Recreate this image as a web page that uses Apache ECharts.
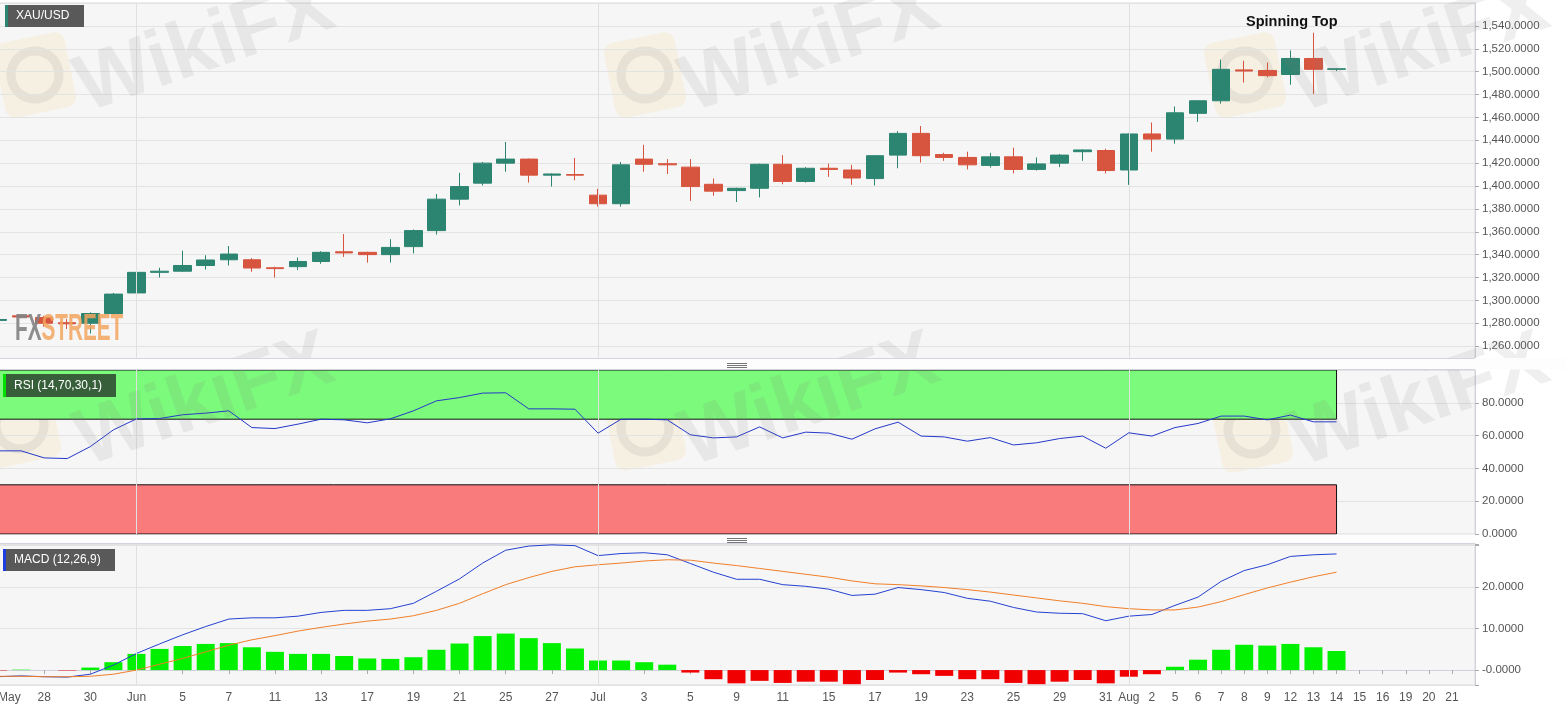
<!DOCTYPE html>
<html>
<head>
<meta charset="utf-8">
<script src="https://cdn.jsdelivr.net/npm/echarts@6/dist/echarts.min.js"></script>
<style>
html,body{margin:0;padding:0;background:#ffffff;}
#chart{width:1565px;height:711px;}
</style>
</head>
<body>
<div id="chart"></div>
<script>
// ---------- DATA ----------
const categories = [
 '2019-05-24','2019-05-27','2019-05-28','2019-05-29','2019-05-30','2019-05-31',
 '2019-06-03','2019-06-04','2019-06-05','2019-06-06','2019-06-07',
 '2019-06-10','2019-06-11','2019-06-12','2019-06-13','2019-06-14',
 '2019-06-17','2019-06-18','2019-06-19','2019-06-20','2019-06-21',
 '2019-06-24','2019-06-25','2019-06-26','2019-06-27','2019-06-28',
 '2019-07-01','2019-07-02','2019-07-03','2019-07-04','2019-07-05',
 '2019-07-08','2019-07-09','2019-07-10','2019-07-11','2019-07-12',
 '2019-07-15','2019-07-16','2019-07-17','2019-07-18','2019-07-19',
 '2019-07-22','2019-07-23','2019-07-24','2019-07-25','2019-07-26',
 '2019-07-29','2019-07-30','2019-07-31','2019-08-01','2019-08-02',
 '2019-08-05','2019-08-06','2019-08-07','2019-08-08','2019-08-09',
 '2019-08-12','2019-08-13','2019-08-14','2019-08-15','2019-08-16',
 '2019-08-19','2019-08-20','2019-08-21','2019-08-22'
];
const tickLabels = [
 'May','','28','','30','',
 'Jun','','5','','7',
 '','11','','13','',
 '17','','19','','21',
 '','25','','27','',
 'Jul','','3','','5',
 '','9','','11','',
 '15','','17','','19',
 '','23','','25','',
 '29','','31','Aug','2',
 '5','6','7','8','9',
 '12','13','14','15','16',
 '19','20','21',''
];
const openPrices = [1282.5,1286.5,1285,1280.5,1280,1288.5,1306.5,1324.5,1325.5,1330.5,1335.5,1335.5,1328.5,1329.5,1334,1342.5,1342,1340,1347,1361,1388.5,1402.5,1420,1423.5,1409.5,1410,1392,1384.5,1423.5,1419.5,1416.5,1401.5,1396,1398,1419,1404,1415.5,1414,1406.5,1427,1446,1427.5,1425,1418,1425.5,1414.5,1420,1430,1431,1414,1445.5,1441,1463.5,1474.5,1501.5,1501,1497.5,1511.5,1502];
const closePrices = [1283.3,1285.5,1280,1279.5,1288.5,1305.5,1324.5,1325.5,1330.5,1335.3,1340.5,1328.3,1327.8,1334,1342,1341.5,1340,1346.3,1361,1388.5,1399.5,1420,1423.5,1409.5,1410.5,1409.5,1384.5,1418.5,1419,1418.5,1399.5,1395.5,1398,1419,1404,1415.5,1414.5,1407,1426.5,1446,1426.5,1425,1418.5,1425.5,1414.5,1419.3,1427,1431.5,1413.5,1445.5,1441,1464,1474.5,1502,1500.5,1496.5,1511.5,1502,1502.5];
const lowPrices = [1281.5,1284.5,1277,1275,1271,1287.5,1306,1320,1325,1327,1330.5,1325,1320,1326.5,1332,1338,1333,1333,1341,1357.5,1383,1400.5,1412.5,1403,1399.5,1405,1382,1382,1412.5,1410.5,1387,1391.5,1386,1390,1401.5,1403,1408,1401,1400.5,1415.5,1420.5,1422,1414.5,1416,1411,1413.5,1416.5,1422,1411,1401,1430,1437,1456,1472,1490.5,1495,1488.5,1480.5,1500.5];
const highPrices = [1284,1287,1286.5,1283.5,1289.5,1306.5,1327,1328.5,1343.5,1339.5,1347.5,1337,1329.5,1337.5,1343,1358,1342.5,1353.5,1362,1393,1411.5,1421,1438.5,1424,1411,1424.5,1397.5,1421,1436,1423.5,1423.5,1406.5,1398.5,1419.5,1427,1416.5,1419.5,1418.5,1427,1448,1452.5,1429,1430,1429,1433.5,1425,1428,1432,1432.5,1446,1455.5,1469.5,1475,1510.5,1509.5,1508,1518.5,1534,1503];
const rsiValues = [50.7,50.7,46.4,46.0,53.3,63.5,70.2,70.4,72.7,73.7,75.1,64.9,64.3,67.0,70.0,69.6,67.8,70.2,75.1,81.2,83.2,85.9,86.1,76.3,76.3,76.1,61.5,70.0,70.0,69.6,60.5,58.6,59.2,65.3,58.6,62.1,61.5,57.8,64.1,68.2,59.7,59.2,56.6,58.8,54.3,55.6,58.2,59.7,52.3,61.7,59.7,64.9,67.4,71.9,71.9,69.6,72.5,68.4,68.4];
const macdValues = [-1.6,-1.4,-1.6,-1.7,-1.0,1.2,4.0,6.3,8.5,10.5,12.3,12.6,12.6,13.0,13.9,14.4,14.4,14.8,16.1,19.0,22.0,25.8,28.9,29.9,30.2,30.0,27.6,28.1,28.3,27.8,25.7,23.6,21.9,21.9,20.6,20.2,19.5,18.0,18.3,19.9,19.4,18.7,17.3,16.6,15.1,14.0,13.7,13.6,11.9,13.0,13.4,15.6,17.6,21.4,24.0,25.4,27.4,27.8,28.0];
const signalValues = [-1.5,-1.5,-1.6,-1.6,-1.5,-1.0,0.0,1.4,2.8,4.4,6.0,7.3,8.3,9.4,10.3,11.1,11.8,12.3,13.1,14.4,16.1,18.4,20.6,22.3,23.8,24.9,25.4,25.8,26.3,26.6,26.5,25.8,25.2,24.5,23.8,23.1,22.4,21.5,20.8,20.6,20.3,19.9,19.4,18.8,18.1,17.4,16.7,16.1,15.3,14.8,14.5,14.5,15.2,16.5,18.2,19.8,21.2,22.5,23.6];
const histValues = [-0.1,0.1,0,-0.1,0.6,1.9,3.9,5.1,5.8,6.3,6.5,5.5,4.4,3.9,3.9,3.4,2.8,2.7,3.1,4.9,6.4,8.2,8.8,7.7,6.5,5.2,2.3,2.3,1.9,1.3,-0.6,-2.2,-3.2,-2.6,-3.1,-2.8,-2.8,-3.4,-2.4,-0.6,-1.0,-1.4,-2.2,-2.2,-3.1,-3.4,-2.8,-2.4,-3.2,-1.6,-1.0,0.8,2.5,4.9,6.1,5.9,6.3,5.5,4.6];
const monthStarts = ['2019-06-03','2019-07-01','2019-08-01'];
const rsiUpper = 70, rsiLower = 30;

// ---------- CHART ----------
const FONT = 'Arial, "Liberation Sans", sans-serif';
const candleData = openPrices.map((o, i) => [o, closePrices[i], lowPrices[i], highPrices[i]]);
const lastCat = categories[openPrices.length - 1];

const gridBase = {left: -2, right: 90, show: true, backgroundColor: '#f6f6f6', borderColor: '#d9dbe3', borderWidth: 1,
  containLabel: false, outerBoundsMode: 'none'};
const monthLine = {
  silent: true, symbol: 'none', label: {show: false},
  lineStyle: {color: '#e0e0e0', type: 'solid', width: 1},
  data: monthStarts.map(d => ({xAxis: d}))
};
function xAx(idx, showLabels) {
  const ax = {
    type: 'category', gridIndex: idx, data: categories, boundaryGap: false,
    axisLine: {show: false}, axisTick: {show: false}, axisLabel: {show: false}, splitLine: {show: false}
  };
  if (showLabels) {
    ax.axisLine = {show: true, lineStyle: {color: '#cfd1d8'}};
    ax.axisTick = {show: true, length: 4, interval: (i) => tickLabels[i] !== '', lineStyle: {color: '#aaa'}};
    ax.axisLabel = {
      show: true, interval: (i) => tickLabels[i] !== '',
      formatter: (v, i) => tickLabels[i], color: '#555', fontSize: 12, fontFamily: FONT, margin: 7,
      alignMinLabel: 'left'
    };
  }
  return ax;
}
function yAx(idx, extra) {
  return Object.assign({
    type: 'value', gridIndex: idx, position: 'right',
    axisLine: {show: true, lineStyle: {color: '#cfd1d8'}},
    axisTick: {show: true, length: 4, lineStyle: {color: '#aaa'}},
    splitLine: {show: true, lineStyle: {color: '#e3e3e3'}},
  }, extra);
}
const fmt4 = v => v.toLocaleString('en-US', {minimumFractionDigits: 4, maximumFractionDigits: 4});
const labelStyle = {color: '#555', fontSize: 11.5, fontFamily: FONT, margin: 7};

// watermark helpers
const wmTexts = [[205,48],[810,48],[1420,48],[205,402],[810,402],[1420,402]].map(p => ({
  type: 'text', x: p[0], y: p[1], rotation: 0.33, z: 60, silent: true,
  style: {text: 'WikiFX', fill: 'rgba(135,120,120,0.12)', font: 'bold 80px ' + FONT, textAlign: 'center', textVerticalAlign: 'middle'}
}));
const wmLogos = [[35,75],[645,75],[1245,75],[20,425],[645,428],[1252,430]].map(p => ({
  type: 'group', x: p[0], y: p[1], rotation: 0.2, z: 59, silent: true,
  children: [
    {type: 'rect', shape: {x: -36, y: -38, width: 72, height: 76, r: 10}, style: {fill: 'rgba(248,215,140,0.18)'}},
    {type: 'circle', shape: {cx: 0, cy: 0, r: 24}, style: {fill: 'none', stroke: 'rgba(140,130,130,0.14)', lineWidth: 9}}
  ]
}));

function handle(y) {
  return [0, 2, 4].map(d => ({type: 'line', z: 101, silent: true,
    shape: {x1: 727, y1: y + d + 0.5, x2: 747, y2: y + d + 0.5}, style: {stroke: '#777', lineWidth: 1}}));
}
function labelBox(x, y, w, h, bg, stripe, text) {
  return [
    {type: 'rect', z: 102, silent: true, shape: {x: x, y: y, width: w, height: h}, style: {fill: bg}},
    {type: 'rect', z: 103, silent: true, shape: {x: x, y: y, width: 3, height: h}, style: {fill: stripe}},
    {type: 'text', z: 103, silent: true, x: x + 11, y: y + h / 2,
     style: {text: text, fill: '#ffffff', font: '12px ' + FONT, textVerticalAlign: 'middle'}}
  ];
}

const option = {
  animation: false,
  backgroundColor: '#ffffff',
  grid: [
    Object.assign({}, gridBase, {top: 3, height: 366}),
    Object.assign({}, gridBase, {top: 370, height: 164}),
    Object.assign({}, gridBase, {top: 544, height: 141})
  ],
  xAxis: [xAx(0, false), xAx(1, false), xAx(2, true)],
  yAxis: [
    yAx(0, {min: 1240, max: 1560, interval: 20,
      axisLabel: Object.assign({formatter: fmt4, showMinLabel: false, showMaxLabel: false}, labelStyle)}),
    yAx(1, {min: 0, max: 100, interval: 20,
      axisLabel: Object.assign({formatter: v => v.toFixed(4), showMaxLabel: false}, labelStyle)}),
    yAx(2, {min: -3.6, max: 30.4, splitNumber: 3,
      axisLabel: Object.assign({formatter: v => {
        if (Math.abs(v - Math.round(v / 10) * 10) > 1e-6 || v >= 30 || v < 0) return '';
        return v === 0 ? '-0.0000' : v.toFixed(4);
      }}, labelStyle)})
  ],
  series: [
    {
      type: 'candlestick', xAxisIndex: 0, yAxisIndex: 0, data: candleData, barWidth: 18,
      itemStyle: {color: '#2c8570', color0: '#d7543e', borderColor: '#2c8570', borderColor0: '#d7543e', borderWidth: 1},
      markLine: monthLine
    },
    {
      type: 'line', xAxisIndex: 1, yAxisIndex: 1, data: rsiValues, symbol: 'none',
      lineStyle: {color: '#2438c9', width: 1}, z: 5,
      markLine: monthLine,
      markArea: {
        silent: true,
        data: [
          [{xAxis: categories[0], yAxis: rsiUpper, itemStyle: {color: '#7cfa7c', borderColor: '#111', borderWidth: 1}},
           {xAxis: lastCat, yAxis: 100}],
          [{xAxis: categories[0], yAxis: 0, itemStyle: {color: '#fa7b7b', borderColor: '#111', borderWidth: 1}},
           {xAxis: lastCat, yAxis: rsiLower}]
        ]
      }
    },
    {
      type: 'bar', xAxisIndex: 2, yAxisIndex: 2, data: histValues, barWidth: 18,
      itemStyle: {color: p => p.value >= 0 ? '#00f000' : '#f00000'},
      markLine: monthLine
    },
    {
      type: 'line', xAxisIndex: 2, yAxisIndex: 2, data: macdValues, symbol: 'none',
      lineStyle: {color: '#2540d0', width: 1}
    },
    {
      type: 'line', xAxisIndex: 2, yAxisIndex: 2, data: signalValues, symbol: 'none',
      lineStyle: {color: '#f07f2a', width: 1}
    }
  ],
  graphic: [].concat(
    // separators
    [{type: 'rect', z: 100, silent: true, shape: {x: 0, y: 358, width: 1565, height: 11.5}, style: {fill: '#fdfdfd'}},
     {type: 'line', z: 100, silent: true, shape: {x1: 0, y1: 358.5, x2: 1475, y2: 358.5}, style: {stroke: '#d3d4dc', lineWidth: 1}},
     {type: 'line', z: 100, silent: true, shape: {x1: 0, y1: 369.5, x2: 1475, y2: 369.5}, style: {stroke: '#d3d4dc', lineWidth: 1}},
     {type: 'rect', z: 100, silent: true, shape: {x: 0, y: 534.5, width: 1475, height: 9}, style: {fill: '#fdfdfd'}},
     {type: 'line', z: 100, silent: true, shape: {x1: 0, y1: 543.5, x2: 1475, y2: 543.5}, style: {stroke: '#d3d4dc', lineWidth: 1}}],
    handle(363), handle(538),
    wmLogos, wmTexts,
    labelBox(5, 5, 79, 22, '#595959', '#2c8570', 'XAU/USD'),
    labelBox(3, 374, 113, 23, '#37603a', '#00e000', 'RSI (14,70,30,1)'),
    labelBox(3, 549, 112, 22, '#595959', '#1d3de0', 'MACD (12,26,9)'),
    [{type: 'text', z: 104, silent: true, x: 15, y: 311, scaleX: 0.56,
      style: {text: '{a|FX}{b|STREET}', rich: {
        a: {fill: 'rgba(130,130,130,0.9)', font: 'bold 37px ' + FONT},
        b: {fill: 'rgba(242,165,95,0.85)', font: 'bold 37px ' + FONT}
      }, textVerticalAlign: 'top'}},
     {type: 'text', z: 104, silent: true, x: 1246, y: 22,
      style: {text: 'Spinning Top', fill: '#111', font: 'bold 14.5px ' + FONT, textVerticalAlign: 'middle'}}]
  )
};
const chart = echarts.init(document.getElementById('chart'), null, {renderer: 'canvas'});
chart.setOption(option);
</script>
</body>
</html>
